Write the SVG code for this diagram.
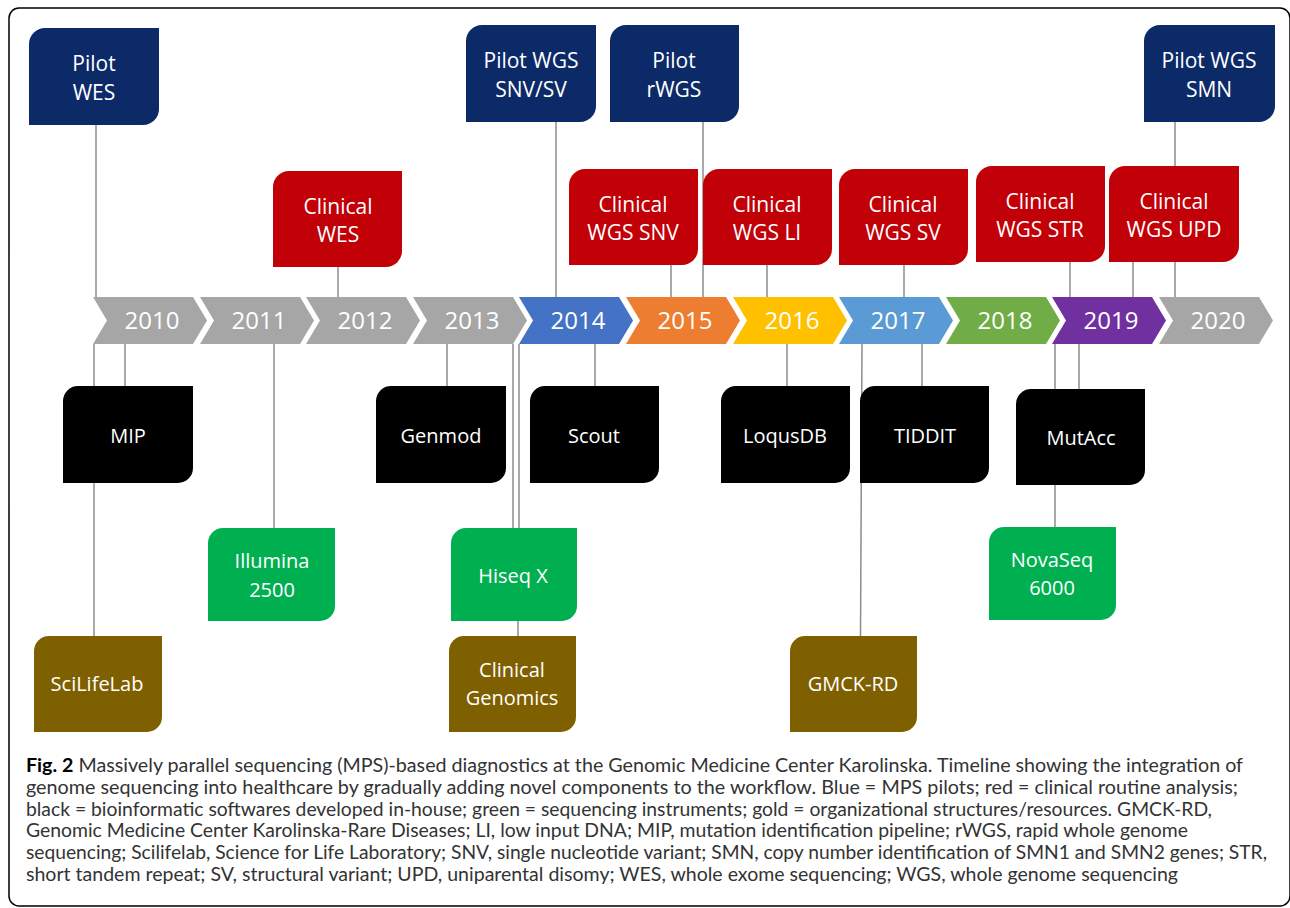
<svg xmlns="http://www.w3.org/2000/svg" width="1290" height="908" viewBox="0 0 1290 908">
<style>
.frame{fill:#fff;stroke:#000;stroke-width:1.5}
.conn line{stroke:#8c8c8c;stroke-width:1.5}
.navy{fill:#0c2a68}.red{fill:#c20008}.blk{fill:#000}.grn{fill:#00b050}.gold{fill:#7f6000}
.bt{font-family:"Open Sans","DejaVu Sans",sans-serif;font-size:21px;fill:#fff;text-anchor:middle}
.bb{font-family:"Open Sans","DejaVu Sans",sans-serif;font-size:20px;fill:#fff;text-anchor:middle}
.yr{font-family:"Open Sans","DejaVu Sans",sans-serif;font-size:24px;fill:#fff;text-anchor:middle}
.cap{font-family:Lato,"Open Sans",sans-serif;font-size:19.5px;fill:#333}
.capb{font-weight:bold;fill:#000}
</style>
<rect class="frame" x="9" y="8" width="1281" height="898" rx="10"/>

<g id="timeline">
<path d="M93,297H193L207,320.5L193,344H93L107,320.5Z" fill="#a6a6a6"/>
<path d="M200,297H300L314,320.5L300,344H200L214,320.5Z" fill="#a6a6a6"/>
<path d="M306,297H406L420,320.5L406,344H306L320,320.5Z" fill="#a6a6a6"/>
<path d="M413,297H513L527,320.5L513,344H413L427,320.5Z" fill="#a6a6a6"/>
<path d="M519,297H619L633,320.5L619,344H519L533,320.5Z" fill="#4472c4"/>
<path d="M626,297H726L740,320.5L726,344H626L640,320.5Z" fill="#ed7d31"/>
<path d="M733,297H833L847,320.5L833,344H733L747,320.5Z" fill="#ffc000"/>
<path d="M839,297H939L953,320.5L939,344H839L853,320.5Z" fill="#5b9bd5"/>
<path d="M946,297H1046L1060,320.5L1046,344H946L960,320.5Z" fill="#70ad47"/>
<path d="M1052,297H1152L1166,320.5L1152,344H1052L1066,320.5Z" fill="#7030a0"/>
<path d="M1159,297H1259L1273,320.5L1259,344H1159L1173,320.5Z" fill="#a6a6a6"/>
<text class="yr" x="152" y="329">2010</text>
<text class="yr" x="259" y="329">2011</text>
<text class="yr" x="365" y="329">2012</text>
<text class="yr" x="472" y="329">2013</text>
<text class="yr" x="578" y="329">2014</text>
<text class="yr" x="685" y="329">2015</text>
<text class="yr" x="792" y="329">2016</text>
<text class="yr" x="898" y="329">2017</text>
<text class="yr" x="1005" y="329">2018</text>
<text class="yr" x="1111" y="329">2019</text>
<text class="yr" x="1218" y="329">2020</text>
</g>

<g id="connectors" class="conn">
<line x1="96" y1="125" x2="96" y2="297"/>
<line x1="338" y1="267" x2="338" y2="297"/>
<line x1="556" y1="122" x2="556" y2="297"/>
<line x1="671" y1="265" x2="671" y2="297"/>
<line x1="703" y1="122" x2="703" y2="297"/>
<line x1="767" y1="265" x2="767" y2="297"/>
<line x1="904" y1="265" x2="904" y2="297"/>
<line x1="1070" y1="262" x2="1070" y2="297"/>
<line x1="1133" y1="262" x2="1133" y2="297"/>
<line x1="1175" y1="122" x2="1175" y2="297"/>
<line x1="94" y1="344" x2="94" y2="636"/>
<line x1="125" y1="344" x2="125" y2="386"/>
<line x1="274" y1="344" x2="274" y2="528"/>
<line x1="447" y1="344" x2="447" y2="386"/>
<line x1="513" y1="344" x2="513" y2="528"/>
<line x1="519" y1="344" x2="519" y2="528"/>
<line x1="518" y1="621" x2="518" y2="636"/>
<line x1="595" y1="344" x2="595" y2="386"/>
<line x1="787" y1="344" x2="787" y2="386"/>
<line x1="862" y1="344" x2="860.5" y2="636"/>
<line x1="922" y1="344" x2="922" y2="386"/>
<line x1="1055" y1="344" x2="1055" y2="527"/>
<line x1="1079" y1="344" x2="1079" y2="389"/>
</g>

<g id="pilot-wes"><path class="navy" d="M45,28H159V109A16,16 0 0 1 143,125H29V44A16,16 0 0 1 45,28Z"/><text class="bt" x="94" y="71">Pilot</text><text class="bt" x="94" y="100">WES</text></g>
<g id="pilot-wgs-snvsv"><path class="navy" d="M482,25H596V106A16,16 0 0 1 580,122H466V41A16,16 0 0 1 482,25Z"/><text class="bt" x="531" y="68">Pilot WGS</text><text class="bt" x="531" y="97">SNV/SV</text></g>
<g id="pilot-rwgs"><path class="navy" d="M626,25H739V106A16,16 0 0 1 723,122H610V41A16,16 0 0 1 626,25Z"/><text class="bt" x="674" y="68">Pilot</text><text class="bt" x="674" y="97">rWGS</text></g>
<g id="pilot-wgs-smn"><path class="navy" d="M1160,25H1275V106A16,16 0 0 1 1259,122H1144V41A16,16 0 0 1 1160,25Z"/><text class="bt" x="1209" y="68">Pilot WGS</text><text class="bt" x="1209" y="97">SMN</text></g>

<g id="clinical-wes"><path class="red" d="M289,171H402V251A16,16 0 0 1 386,267H273V187A16,16 0 0 1 289,171Z"/><text class="bt" x="338" y="214">Clinical</text><text class="bt" x="338" y="242">WES</text></g>
<g id="clinical-wgs-snv"><path class="red" d="M585,169H698V249A16,16 0 0 1 682,265H569V185A16,16 0 0 1 585,169Z"/><text class="bt" x="633" y="212">Clinical</text><text class="bt" x="633" y="240">WGS SNV</text></g>
<g id="clinical-wgs-li"><path class="red" d="M719,169H832V249A16,16 0 0 1 816,265H703V185A16,16 0 0 1 719,169Z"/><text class="bt" x="767" y="212">Clinical</text><text class="bt" x="767" y="240">WGS LI</text></g>
<g id="clinical-wgs-sv"><path class="red" d="M855,169H968V249A16,16 0 0 1 952,265H839V185A16,16 0 0 1 855,169Z"/><text class="bt" x="903" y="212">Clinical</text><text class="bt" x="903" y="240">WGS SV</text></g>
<g id="clinical-wgs-str"><path class="red" d="M992,166H1105V246A16,16 0 0 1 1089,262H976V182A16,16 0 0 1 992,166Z"/><text class="bt" x="1040" y="209">Clinical</text><text class="bt" x="1040" y="237">WGS STR</text></g>
<g id="clinical-wgs-upd"><path class="red" d="M1125,166H1239V246A16,16 0 0 1 1223,262H1109V182A16,16 0 0 1 1125,166Z"/><text class="bt" x="1174" y="209">Clinical</text><text class="bt" x="1174" y="237">WGS UPD</text></g>

<g id="mip"><path class="blk" d="M78,386H193V468A15,15 0 0 1 178,483H63V401A15,15 0 0 1 78,386Z"/><text class="bb" x="128" y="443">MIP</text></g>
<g id="genmod"><path class="blk" d="M391,386H506V468A15,15 0 0 1 491,483H376V401A15,15 0 0 1 391,386Z"/><text class="bb" x="441" y="443">Genmod</text></g>
<g id="scout"><path class="blk" d="M545,386H659V468A15,15 0 0 1 644,483H530V401A15,15 0 0 1 545,386Z"/><text class="bb" x="594" y="443">Scout</text></g>
<g id="loqusdb"><path class="blk" d="M736,386H850V468A15,15 0 0 1 835,483H721V401A15,15 0 0 1 736,386Z"/><text class="bb" x="785" y="443">LoqusDB</text></g>
<g id="tiddit"><path class="blk" d="M875,386H989V468A15,15 0 0 1 974,483H860V401A15,15 0 0 1 875,386Z"/><text class="bb" x="925" y="443">TIDDIT</text></g>
<g id="mutacc"><path class="blk" d="M1031,389H1145V470A15,15 0 0 1 1130,485H1016V404A15,15 0 0 1 1031,389Z"/><text class="bb" x="1081" y="445">MutAcc</text></g>

<g id="illumina-2500"><path class="grn" d="M223,528H335V606A15,15 0 0 1 320,621H208V543A15,15 0 0 1 223,528Z"/><text class="bb" x="272" y="568">Illumina</text><text class="bb" x="272" y="597">2500</text></g>
<g id="hiseq-x"><path class="grn" d="M466,528H577V606A15,15 0 0 1 562,621H451V543A15,15 0 0 1 466,528Z"/><text class="bb" x="513" y="583">Hiseq X</text></g>
<g id="novaseq-6000"><path class="grn" d="M1004,527H1116V605A15,15 0 0 1 1101,620H989V542A15,15 0 0 1 1004,527Z"/><text class="bb" x="1052" y="567">NovaSeq</text><text class="bb" x="1052" y="595">6000</text></g>

<g id="scilifelab"><path class="gold" d="M49,636H162V717A15,15 0 0 1 147,732H34V651A15,15 0 0 1 49,636Z"/><text class="bb" x="97" y="691">SciLifeLab</text></g>
<g id="clinical-genomics"><path class="gold" d="M464,636H576V717A15,15 0 0 1 561,732H449V651A15,15 0 0 1 464,636Z"/><text class="bb" x="512" y="677">Clinical</text><text class="bb" x="512" y="705">Genomics</text></g>
<g id="gmck-rd"><path class="gold" d="M805,636H917V717A15,15 0 0 1 902,732H790V651A15,15 0 0 1 805,636Z"/><text class="bb" x="853" y="691">GMCK-RD</text></g>

<g id="caption">
<text class="cap" x="26" y="772" textLength="1217" lengthAdjust="spacingAndGlyphs"><tspan class="capb">Fig. 2</tspan> Massively parallel sequencing (MPS)-based diagnostics at the Genomic Medicine Center Karolinska. Timeline showing the integration of</text>
<text class="cap" x="26" y="794" textLength="1212" lengthAdjust="spacingAndGlyphs">genome sequencing into healthcare by gradually adding novel components to the workflow. Blue = MPS pilots; red = clinical routine analysis;</text>
<text class="cap" x="26" y="815.5" textLength="1186" lengthAdjust="spacingAndGlyphs">black = bioinformatic softwares developed in-house; green = sequencing instruments; gold = organizational structures/resources. GMCK-RD,</text>
<text class="cap" x="26" y="837" textLength="1162" lengthAdjust="spacingAndGlyphs">Genomic Medicine Center Karolinska-Rare Diseases; LI, low input DNA; MIP, mutation identification pipeline; rWGS, rapid whole genome</text>
<text class="cap" x="26" y="859" textLength="1241" lengthAdjust="spacingAndGlyphs">sequencing; Scilifelab, Science for Life Laboratory; SNV, single nucleotide variant; SMN, copy number identification of SMN1 and SMN2 genes; STR,</text>
<text class="cap" x="26" y="880.5" textLength="1152" lengthAdjust="spacingAndGlyphs">short tandem repeat; SV, structural variant; UPD, uniparental disomy; WES, whole exome sequencing; WGS, whole genome sequencing</text>
</g>
</svg>
